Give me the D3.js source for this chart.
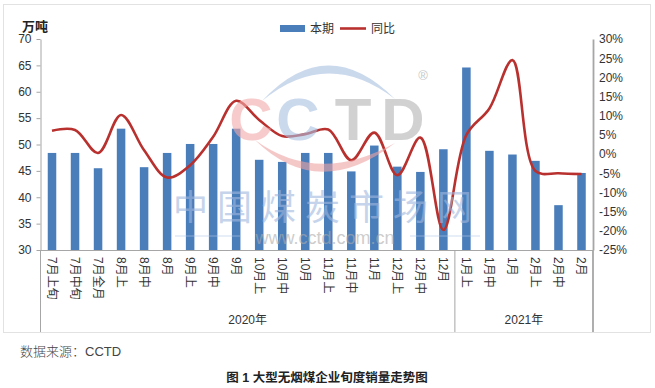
<!DOCTYPE html>
<html><head><meta charset="utf-8">
<script src="https://cdn.jsdelivr.net/npm/d3@7"></script>
<style>
body{margin:0;background:#fff}
text{font-family:"Liberation Sans","Noto Sans CJK SC",sans-serif}
</style>
</head><body><svg id="c" width="655" height="388"></svg>
<script>
const categories = ["7月上旬","7月中旬","7月全月","8月上","8月中","8月","9月上","9月中","9月","10月上","10月中","10月","11月上","11月中","11月","12月上","12月中","12月","1月上","1月中","1月","2月上","2月中","2月"];
const salesValues = [48.4,48.4,45.5,53.0,45.7,48.4,50.1,50.1,53.0,47.1,46.7,48.4,48.4,44.9,49.8,45.8,44.8,49.1,64.6,48.8,48.1,46.9,38.5,44.6];
const yoyValues = [6.1,6.3,0.3,10.2,1.0,-6.1,-2.9,4.5,13.9,8.9,4.7,5.2,6.4,-1.6,5.6,-5.5,4.3,-19.8,5.0,11.9,24.5,-4.4,-5.0,-5.2];
const leftTicks = [30,35,40,45,50,55,60,65,70];
const rightTicks = [-25,-20,-15,-10,-5,0,5,10,15,20,25,30];
const groupLabels = ["2020年","2021年"];
const groupSizes = [18,6];
const seriesNames = ["本期","同比"];
const unitLabel = "万吨";
const sourceText = "数据来源：CCTD";
const captionText = "图 1 大型无烟煤企业旬度销量走势图";

const svg = d3.select("#c");
const L = 40.5, R = 593, T = 39, B = 250;
const barColor = "#4a7ebb", lineColor = "#b8312f", axisColor = "#a6a6a6";

// chart area border
svg.append("rect").attr("x",3.5).attr("y",4.5).attr("width",647).attr("height",328)
  .attr("fill","#fff").attr("stroke","#e2e2e2");

const x = d3.scaleBand().domain(categories).range([L,R]).paddingInner(0.63).paddingOuter(0.315);
const yL = d3.scaleLinear().domain([30,70]).range([B,T]);
const yR = d3.scaleLinear().domain([-25,30]).range([B,T]);
const cx = d => x(d) + x.bandwidth()/2;

// bars
svg.append("g").selectAll("rect").data(categories).join("rect")
  .attr("x", d => x(d)).attr("width", x.bandwidth())
  .attr("y", (d,i) => yL(salesValues[i])).attr("height", (d,i) => yL(30) - yL(salesValues[i]))
  .attr("fill", barColor);

// line
const line = d3.line().x((d,i)=>cx(categories[i])).y(d=>yR(d)).curve(d3.curveCatmullRom.alpha(0.5));
svg.append("path").datum(yoyValues).attr("d", line).attr("fill","none")
  .attr("stroke", lineColor).attr("stroke-width",2.6);

// watermark
const wm = svg.append("g").attr("opacity",0.6);
wm.append("path").attr("d","M262,101 Q327,31 395,99 Q327,47 262,101 Z").attr("fill","#a9c0e2");
wm.append("path").attr("d","M255,140 Q318,202 395,143 Q318,186 255,140 Z").attr("fill","#f0a4a4");
const letters = [["C",251,"#f2a9a9"],["C",298,"#a9c0e2"],["T",353,"#b4b4b4"],["D",403,"#b4b4b4"]];
letters.forEach(l => wm.append("text").attr("x",l[1]).attr("y",140).attr("text-anchor","middle")
  .attr("font-size",60).attr("font-weight","bold").attr("fill",l[2]).text(l[0]));
wm.append("text").attr("x",423).attr("y",80).attr("text-anchor","middle").attr("font-size",13).attr("fill","#a0a0a0").text("®");
wm.append("text").attr("x",173).attr("y",220).attr("font-size",35).attr("letter-spacing",9)
  .attr("fill","#9fb8de").text("中国煤炭市场网");
wm.append("text").attr("x",325).attr("y",244).attr("text-anchor","middle").attr("font-size",18)
  .attr("fill","#acacac").text("www.cctd.com.cn");
wm.append("line").attr("x1",175).attr("x2",240).attr("y1",236).attr("y2",236).attr("stroke","#b3c7e6");
wm.append("line").attr("x1",410).attr("x2",480).attr("y1",236).attr("y2",236).attr("stroke","#b3c7e6");

// axes
const gL = svg.append("g").attr("transform",`translate(${L},0)`)
  .call(d3.axisLeft(yL).tickValues(leftTicks).tickSize(4).tickSizeOuter(0).tickPadding(5));
const gR = svg.append("g").attr("transform",`translate(${R},0)`)
  .call(d3.axisRight(yR).tickValues(rightTicks).tickSize(0).tickPadding(6).tickFormat(d => d + "%"));
[gL,gR].forEach(g => {
  g.selectAll("path.domain").attr("stroke",axisColor);
  g.selectAll(".tick line").attr("stroke",axisColor);
  g.selectAll("text").attr("font-size",12).attr("fill","#333")
    .attr("font-family",'"Liberation Sans","Noto Sans CJK SC",sans-serif');
});
gR.select("path.domain").attr("stroke-width",1.8);

// bottom axis line
svg.append("line").attr("x1",L).attr("x2",R).attr("y1",B+0.5).attr("y2",B+0.5).attr("stroke",axisColor);

// category labels
svg.append("g").selectAll("text").data(categories).join("text")
  .attr("transform", d => `translate(${cx(d)},257) rotate(90)`)
  .attr("dy","0.35em").attr("font-size",12).attr("fill","#333").text(d => d);

// group separators and labels
let cum = 0;
const bounds = [0];
groupSizes.forEach(s => { cum += s; bounds.push(cum); });
const bx = i => L + x.step()*i;
bounds.forEach(b => {
  svg.append("line").attr("x1",bx(b)).attr("x2",bx(b)).attr("y1",B).attr("y2",332)
    .attr("stroke",axisColor).attr("stroke-width", b===cum ? 1.8 : 1);
});
groupLabels.forEach((g,i) => {
  svg.append("text").attr("x",(bx(bounds[i])+bx(bounds[i+1]))/2).attr("y",324)
    .attr("text-anchor","middle").attr("font-size",12).attr("fill","#333").text(g);
});

// unit label
svg.append("text").attr("x",22).attr("y",31).attr("font-size",13).attr("font-weight","bold")
  .attr("fill","#222").text(unitLabel);

// legend
const lg = svg.append("g");
lg.append("rect").attr("x",280).attr("y",25).attr("width",25).attr("height",7).attr("fill",barColor);
lg.append("text").attr("x",310).attr("y",33).attr("font-size",12).attr("fill","#333").text(seriesNames[0]);
lg.append("line").attr("x1",340).attr("x2",366).attr("y1",28.5).attr("y2",28.5).attr("stroke",lineColor).attr("stroke-width",2.6);
lg.append("text").attr("x",371).attr("y",33).attr("font-size",12).attr("fill","#333").text(seriesNames[1]);

// source and caption
svg.append("text").attr("x",20).attr("y",356).attr("font-size",13).attr("fill","#444")
  .attr("font-family",'"DejaVu Serif","Noto Sans CJK SC",serif').attr("font-weight",300).text(sourceText);
svg.append("text").attr("x",327).attr("y",382).attr("text-anchor","middle").attr("font-size",12.5)
  .attr("font-weight","bold").attr("fill","#222").text(captionText);
</script>
</body></html>
